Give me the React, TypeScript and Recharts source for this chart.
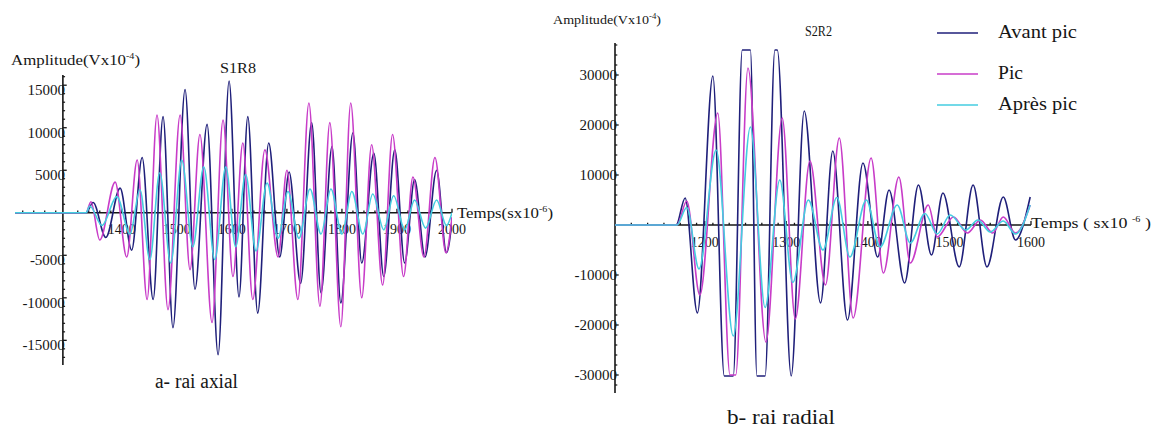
import React from "react";
import { LineChart, Line, XAxis, YAxis, ReferenceLine } from "recharts";

type Pair = [number, number];

// ---------- Panel a : S1R8, rai axial (time in s x10^-6, amplitude in V x10^-4) ----------
const axialAvantPic: Pair[] = [
  [1206, 0], [1335, 0], [1348, 1200], [1371, -2900], [1397, 2900], [1418, -4400], [1437, 6500],
  [1457, -10200], [1475, 11300], [1493, -13500], [1515, 14500], [1533, -9000], [1555, 10400],
  [1575, -16700], [1595, 15500], [1613, -9900], [1629, 11300], [1647, -11800], [1667, 8200],
  [1687, -5200], [1704, 4800], [1725, -8300], [1745, 10600], [1762, -9400], [1782, 7800],
  [1798, -10600], [1820, 9400], [1836, -5900], [1858, 7000], [1876, -7500], [1896, 7400],
  [1914, -5900], [1932, 3900], [1951, -5200], [1972, 5000], [1990, -4700], [2000, -1000],
];
const axialPic: Pair[] = [
  [1206, 0], [1335, 0], [1344, 1300], [1360, -3200], [1388, 3600], [1409, -5200], [1428, 6200],
  [1446, -10200], [1464, 11500], [1484, -11400], [1506, 11500], [1524, -6700], [1542, 9200],
  [1564, -12900], [1584, 10900], [1602, -7500], [1620, 8200], [1638, -10200], [1660, 7400],
  [1684, -5200], [1700, 5000], [1720, -10200], [1740, 12900], [1760, -11000], [1778, 10600],
  [1798, -13400], [1816, 12900], [1836, -10000], [1854, 8000], [1874, -8500], [1892, 9200],
  [1912, -7500], [1929, 4200], [1949, -5200], [1969, 6500], [1989, -4700], [2000, -500],
];
const axialApresPic: Pair[] = [
  [1206, 0], [1335, 0], [1342, 800], [1364, -1500], [1391, 1900], [1415, -2500], [1433, 2700],
  [1451, -5500], [1469, 4700], [1489, -5900], [1509, 6200], [1529, -4000], [1549, 5400],
  [1569, -5500], [1589, 5400], [1607, -4000], [1625, 4500], [1644, -4500], [1664, 3500],
  [1684, -3000], [1702, 2500], [1722, -3000], [1742, 2800], [1762, -2500], [1780, 2800],
  [1800, -2500], [1818, 2500], [1838, -2500], [1856, 2200], [1876, -2000], [1894, 2000],
  [1914, -2000], [1932, 1500], [1952, -1800], [1972, 1500], [1990, -1500], [2000, 0],
];
const axialXTicks = [1400, 1500, 1600, 1700, 1800, 1900, 2000];
const axialYTicks = [-15000, -10000, -5000, 5000, 10000, 15000];

// ---------- Panel b : S2R2, rai radial ----------
const radialAvantPic: Pair[] = [
  [1090, 0], [1165, 0], [1176, 5400], [1191, -17600], [1210, 29800], [1224, -30200], [1235, -30200],
  [1246, 35000], [1256, 35000], [1264, -30200], [1274, -30200], [1286, 35000], [1289, 35000],
  [1306, -30200], [1322, 22800], [1342, -15600], [1357, 14800], [1375, -19000], [1394, 12400],
  [1412, -6400], [1426, 7000], [1445, -11600], [1462, 8000], [1478, -6000], [1492, 6400],
  [1512, -8400], [1529, 8000], [1546, -8400], [1566, 5600], [1581, -3000], [1599, 5600],
];
const radialPic: Pair[] = [
  [1090, 0], [1166, 0], [1178, 4800], [1194, -14000], [1216, 22400], [1231, -30000], [1238, -30000],
  [1253, 31400], [1275, -23400], [1295, 21400], [1311, -18800], [1329, 12800], [1348, -12000],
  [1365, 17400], [1382, -18600], [1404, 13400], [1419, -9600], [1438, 9600], [1452, -7600],
  [1474, 4000], [1485, -2400], [1505, 1600], [1522, -1600], [1538, 1000], [1553, -1600],
  [1566, 1600], [1581, -1600], [1599, 4000],
];
const radialApresPic: Pair[] = [
  [1090, 0], [1166, 0], [1178, 3500], [1193, -8800], [1214, 15000], [1235, -22200], [1256, 19600],
  [1274, -16500], [1292, 9000], [1308, -11500], [1327, 5000], [1345, -5000], [1362, 5500],
  [1378, -6400], [1398, 5000], [1415, -4400], [1436, 4000], [1452, -3600], [1470, 2300],
  [1485, -1800], [1501, 2000], [1520, -1000], [1535, 1000], [1550, -1400], [1566, 800],
  [1581, -1800], [1599, 4000],
];
const radialXTicks = [1200, 1300, 1400, 1500, 1600];
const radialYTicks = [-30000, -20000, -10000, 10000, 20000, 30000];

const legendNames = ["Avant pic", "Pic", "Après pic"];

// ---------- styles ----------
const W = 1160;
const H = 428;
const SERIF = "'Liberation Serif', 'Times New Roman', Times, 'DejaVu Serif', serif";
const INK = "#161616";
const COLORS = ["#1f1f7a", "#c83cc8", "#44cde0"];
const FONT_STYLE = { fontFamily: SERIF };

const toPts = (arr: Pair[]) => arr.map(([t, v]) => ({ t, v }));
const range = (a: number, b: number, s: number) => {
  const out: number[] = [];
  for (let x = a; x <= b + 1e-9; x += s) out.push(x);
  return out;
};

const YTickText = (props: any) => {
  const { viewBox, text, dy, fontSize } = props;
  return (
    <text x={viewBox.x + 2} y={viewBox.y + dy} textAnchor="end" dominantBaseline="central"
      fontSize={fontSize} style={FONT_STYLE} fill={INK}>{text}</text>
  );
};
const XTickText = (props: any) => {
  const { viewBox, text, gap, fontSize } = props;
  return (
    <text x={viewBox.x} y={viewBox.y + viewBox.height + gap} textAnchor="middle" dominantBaseline="central"
      fontSize={fontSize} style={FONT_STYLE} fill={INK}>{text}</text>
  );
};

type PanelProps = {
  xDomain: [number, number];
  yDomain: [number, number];
  margin: { top: number; right: number; bottom: number; left: number };
  yAxisAt: number;
  xMajor: number[];
  xMinor: number[];
  yMajor: number[];
  yMinor: number[];
  xTickLen: number;
  xMinorLen: number;
  yTickLen: number;
  yMinorLen: number;
  yLabelDy: number;
  xLabelGap: number;
  series: Pair[][];
};

function Panel(p: PanelProps) {
  return (
    <div style={{ position: "absolute", left: 0, top: 0 }}>
      <LineChart width={W} height={H} margin={p.margin}>
        <XAxis type="number" dataKey="t" domain={p.xDomain} hide allowDataOverflow />
        <YAxis type="number" domain={p.yDomain} hide allowDataOverflow />
        <ReferenceLine y={0} stroke={INK} strokeWidth={1.6} />
        <ReferenceLine x={p.yAxisAt} stroke={INK} strokeWidth={1.6} />
        {p.xMinor.map((t) => (
          <ReferenceLine key={"xm" + t} segment={[{ x: t, y: 0 }, { x: t, y: p.xMinorLen }]} stroke={INK} strokeWidth={1.3} />
        ))}
        {p.xMajor.map((t) => (
          <ReferenceLine key={"xM" + t} segment={[{ x: t, y: 0 }, { x: t, y: p.xTickLen }]} stroke={INK} strokeWidth={1.3}
            label={<XTickText text={String(t)} gap={p.xLabelGap} fontSize={14} />} />
        ))}
        {p.yMinor.map((v) => (
          <ReferenceLine key={"ym" + v} segment={[{ x: p.yAxisAt, y: v }, { x: p.yAxisAt + p.yMinorLen, y: v }]} stroke={INK} strokeWidth={1.2} />
        ))}
        {p.yMajor.map((v) => (
          <ReferenceLine key={"yM" + v} segment={[{ x: p.yAxisAt, y: v }, { x: p.yAxisAt + p.yTickLen, y: v }]} stroke={INK} strokeWidth={1.3}
            label={<YTickText text={String(v)} dy={p.yLabelDy} fontSize={15} />} />
        ))}
        {p.series.map((s, i) => (
          <Line key={"s" + i} name={legendNames[i]} data={toPts(s)} dataKey="v" type="monotone"
            stroke={COLORS[i]} strokeWidth={1.6} dot={false} isAnimationActive={false} />
        ))}
      </LineChart>
    </div>
  );
}

export default function App() {
  const axialMinorY = range(-17000, 16000, 1000).filter((v) => v % 5000 !== 0);
  const radialMinorY = range(-32000, 36000, 2000).filter((v) => v % 10000 !== 0);
  return (
    <div style={{ position: "absolute", left: 0, top: 0, width: W, height: H, background: "#fff", overflow: "hidden" }}>
      <Panel
        xDomain={[1206, 2000]}
        yDomain={[-17900, 16200]}
        margin={{ top: 75, right: W - 452, bottom: H - 365, left: 15 }}
        yAxisAt={1293}
        xMajor={axialXTicks}
        xMinor={range(1220, 1980, 20).filter((t) => t % 100 !== 0)}
        yMajor={axialYTicks}
        yMinor={axialMinorY}
        xTickLen={470}
        xMinorLen={260}
        yTickLen={7}
        yMinorLen={4}
        yLabelDy={5}
        xLabelGap={17}
        series={[axialAvantPic, axialPic, axialApresPic]}
      />
      <Panel
        xDomain={[1090, 1600]}
        yDomain={[-33600, 36400]}
        margin={{ top: 43, right: W - 1031, bottom: H - 393, left: 615 }}
        yAxisAt={1090}
        xMajor={radialXTicks}
        xMinor={range(1110, 1590, 20).filter((t) => t % 100 !== 0)}
        yMajor={radialYTicks}
        yMinor={radialMinorY}
        xTickLen={800}
        xMinorLen={450}
        yTickLen={4.5}
        yMinorLen={2.8}
        yLabelDy={0}
        xLabelGap={17}
        series={[radialAvantPic, radialPic, radialApresPic]}
      />
      <svg width={W} height={H} style={{ position: "absolute", left: 0, top: 0, pointerEvents: "none", fontFamily: SERIF }}
        fill={INK}>
        <text x={11} y={65} fontSize={15} style={FONT_STYLE} textLength={129} lengthAdjust="spacingAndGlyphs">
          Amplitude(Vx10<tspan fontSize={9} dy={-6}>-4</tspan><tspan dy={6}>)</tspan>
        </text>
        <text x={220} y={73} fontSize={15} style={FONT_STYLE} textLength={36} lengthAdjust="spacingAndGlyphs">S1R8</text>
        <text x={457} y={218} fontSize={15} style={FONT_STYLE} textLength={96} lengthAdjust="spacingAndGlyphs">
          Temps(sx10<tspan fontSize={9} dy={-6}>-6</tspan><tspan dy={6}>)</tspan>
        </text>
        <text x={155} y={388} fontSize={20} style={FONT_STYLE} textLength={83} lengthAdjust="spacingAndGlyphs">a- rai axial</text>

        <text x={553} y={24} fontSize={13} style={FONT_STYLE} textLength={108} lengthAdjust="spacingAndGlyphs">
          Amplitude(Vx10<tspan fontSize={8} dy={-5}>-4</tspan><tspan dy={5}>)</tspan>
        </text>
        <text x={805} y={36} fontSize={15} style={FONT_STYLE} textLength={27} lengthAdjust="spacingAndGlyphs">S2R2</text>
        <text x={1031} y={228} fontSize={14} style={FONT_STYLE} textLength={120} lengthAdjust="spacingAndGlyphs">
          Temps ( sx10 <tspan fontSize={8} dy={-6}>-6</tspan><tspan dy={6}> )</tspan>
        </text>
        <text x={727} y={424} fontSize={21} style={FONT_STYLE} textLength={108} lengthAdjust="spacingAndGlyphs">b- rai radial</text>

        {legendNames.map((n, i) => {
          const ly = [33, 74, 105][i];
          return (
            <g key={n}>
              <line x1={937} x2={978} y1={ly} y2={ly} stroke={COLORS[i]} strokeWidth={1.5} />
              <text x={998} y={ly + 5} fontSize={19} style={FONT_STYLE} textLength={[79, 25, 79][i]}
                lengthAdjust="spacingAndGlyphs">{n}</text>
            </g>
          );
        })}
      </svg>
    </div>
  );
}
